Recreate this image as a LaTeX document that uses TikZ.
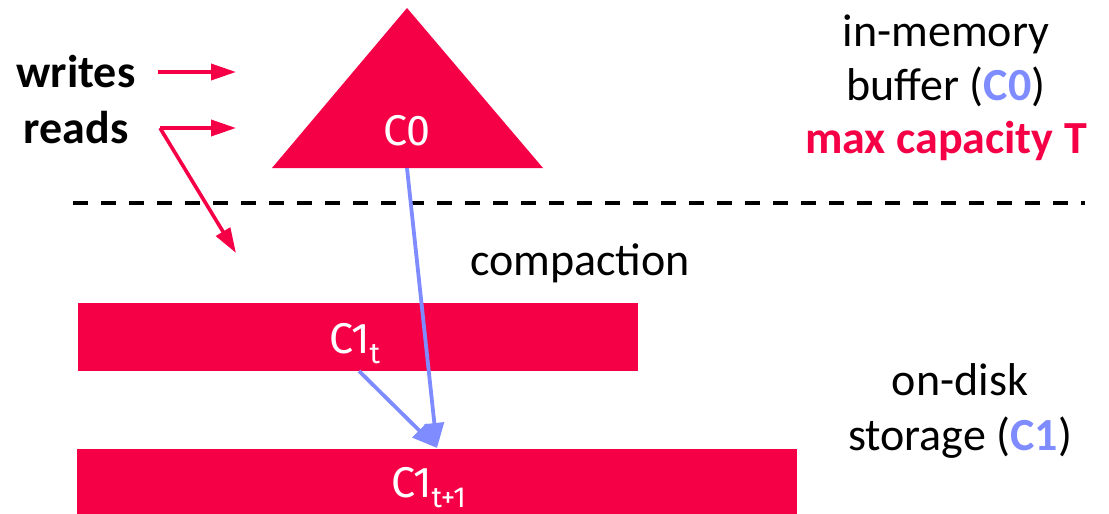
\documentclass[tikz,border=0pt]{standalone}
\usepackage{fontspec}
\setmainfont{Carlito}
\newfontfamily\labelfont{Fira Sans}
\usetikzlibrary{arrows.meta}
\definecolor{lsmred}{HTML}{F50047}
\definecolor{lsmblue}{HTML}{7F8CFF}
% lowered, smaller index used in the component labels
\newcommand\lsmsub[1]{\raisebox{-10pt}{\fontsize{29}{29}\selectfont #1}}

\begin{document}
\begin{tikzpicture}[x=1pt,y=-1pt,
  txt/.style={inner sep=0pt, anchor=base, font=\fontsize{46}{54}\selectfont},
  lbl/.style={inner sep=0pt, anchor=base west, text=white, font=\labelfont\fontsize{43}{43}\selectfont},
  bar/.style={fill=lsmred, draw=none, inner sep=0pt, minimum height=68pt},
  redarrow/.style={draw=lsmred, line width=3.6pt, -{Triangle[length=25pt,width=16pt]}},
  bluearrow/.style={draw=lsmblue, line width=3.8pt, -{Triangle[length=25pt,width=19pt]}},
  divider/.style={line width=4pt, dash pattern=on 15pt off 13pt}]
\useasboundingbox (0,0) rectangle (1109,514);

% operations on the left
\node[txt, font=\fontsize{46}{54}\selectfont\bfseries] (writes) at (76,87) {writes};
\node[txt, font=\fontsize{46}{54}\selectfont\bfseries] (reads) at (76,143) {reads};
\coordinate (wstart) at (158,72);
\coordinate (wend) at (236,72);
\coordinate (rstart) at (160,128);
\coordinate (rmem) at (236,128);
\coordinate (rdisk) at (236,253);
\draw[redarrow] (wstart) -- (wend);
\draw[redarrow] (rstart) -- (rmem);
\draw[redarrow] (rstart) -- (rdisk);

% in-memory component C0
\coordinate (apex) at (407,8);
\coordinate (bl) at (272,168);
\coordinate (br) at (543,168);
\fill[lsmred] (bl) -- (apex) -- (br) -- cycle;
\node[lbl, anchor=base] (c0) at (407,145) {C0};

% memory / disk boundary
\coordinate (dl) at (73,203);
\coordinate (dr) at (1085,203);
\draw[divider] (dl) -- (dr);

\node[txt] (compaction) at (580,275) {compaction};

% on-disk components
\node[bar, minimum width=560pt] (c1t) at (358,337) {};
\node[bar, minimum width=720pt] (c1n) at (437,483) {};
\node[lbl] (c1tlabel) at (329,353) {C1\lsmsub{t}};
\node[lbl] (c1nlabel) at (391,497) {C1\lsmsub{t+1}};

% merge arrows
\coordinate (c0out) at (407,168);
\coordinate (c1tout) at (359,371);
\coordinate (merge) at (437,448);
\draw[bluearrow] (c0out) -- (merge);
\draw[bluearrow] (c1tout) -- (merge);

% captions on the right
\node[txt] (mem1) at (946,46) {in-memory};
\node[txt] (mem2) at (946,100) {buffer (\textcolor{lsmblue}{\bfseries C0})};
\node[txt, text=lsmred, font=\fontsize{46}{54}\selectfont\bfseries] (cap) at (946,153) {max capacity T};
\node[txt] (disk1) at (960,395) {on-disk};
\node[txt] (disk2) at (960,450) {storage (\textcolor{lsmblue}{\bfseries C1})};
\end{tikzpicture}
\end{document}
